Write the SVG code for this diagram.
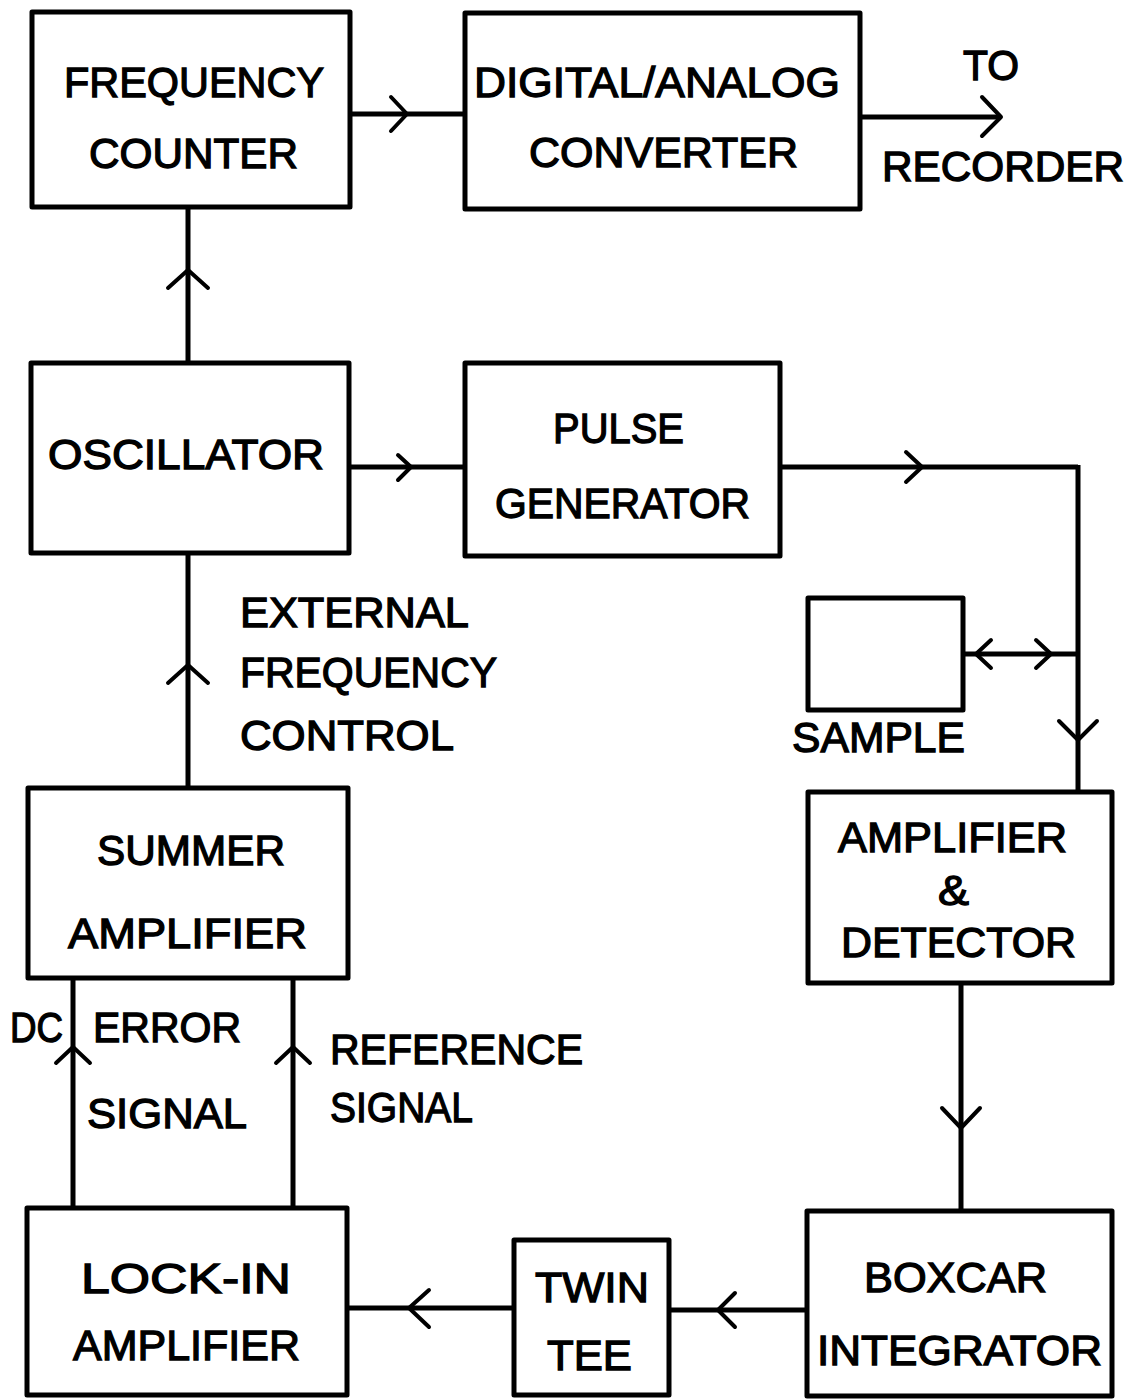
<svg xmlns="http://www.w3.org/2000/svg" width="1141" height="1400" viewBox="0 0 1141 1400">
<style>
.box{fill:none;stroke:#000;stroke-width:5;stroke-linejoin:round}
.ln{fill:none;stroke:#000;stroke-width:5}
.ch{fill:none;stroke:#000;stroke-width:4;stroke-linecap:round;stroke-linejoin:round}
text{font-family:"Liberation Sans",Arial,sans-serif;font-size:43px;fill:#000;stroke:#000;stroke-width:1.3}
</style>
<rect width="1141" height="1400" fill="#fff"/>
<g id="connectors">
<line class="ln" x1="350" y1="114" x2="465" y2="114"/>
<polyline class="ch" points="391,97 407,114 391,131"/>
<line class="ln" x1="860" y1="117" x2="1001" y2="117"/>
<polyline class="ch" points="982,97 1001,117 982,136"/>
<line class="ln" x1="188" y1="207" x2="188" y2="363"/>
<polyline class="ch" points="168,288 188,270 208,288"/>
<line class="ln" x1="349" y1="467" x2="465" y2="467"/>
<polyline class="ch" points="398,455 411,467 398,480"/>
<line class="ln" x1="780" y1="467" x2="1078" y2="467"/>
<polyline class="ch" points="906,452 922,467 906,482"/>
<line class="ln" x1="1078" y1="465" x2="1078" y2="792"/>
<polyline class="ch" points="1059,721 1078,740 1097,721"/>
<line class="ln" x1="963" y1="654" x2="1078" y2="654"/>
<polyline class="ch" points="991,640 976,654 991,668"/>
<polyline class="ch" points="1036,640 1051,654 1036,668"/>
<line class="ln" x1="188" y1="553" x2="188" y2="788"/>
<polyline class="ch" points="168,683 188,665 208,683"/>
<line class="ln" x1="961" y1="983" x2="961" y2="1211"/>
<polyline class="ch" points="942,1108 961,1128 980,1108"/>
<line class="ln" x1="807" y1="1310" x2="669" y2="1310"/>
<polyline class="ch" points="735,1293 718,1310 735,1327"/>
<line class="ln" x1="514" y1="1308" x2="347" y2="1308"/>
<polyline class="ch" points="429,1290 409,1308 429,1327"/>
<line class="ln" x1="73" y1="1208" x2="73" y2="978"/>
<polyline class="ch" points="56,1063 73,1047 90,1063"/>
<line class="ln" x1="293" y1="1208" x2="293" y2="978"/>
<polyline class="ch" points="276,1063 293,1047 310,1063"/>
</g>
<g id="freq-counter">
<rect class="box" x="32" y="12" width="318" height="195"/>
<text x="64" y="97" textLength="260" lengthAdjust="spacingAndGlyphs">FREQUENCY</text>
<text x="89" y="168" textLength="209" lengthAdjust="spacingAndGlyphs">COUNTER</text>
</g>
<g id="dac">
<rect class="box" x="465" y="13" width="395" height="196"/>
<text x="474" y="97" textLength="366" lengthAdjust="spacingAndGlyphs">DIGITAL/ANALOG</text>
<text x="529" y="167" textLength="269" lengthAdjust="spacingAndGlyphs">CONVERTER</text>
</g>
<g id="recorder-label">
<text x="963" y="80" textLength="56" lengthAdjust="spacingAndGlyphs">TO</text>
<text x="882" y="181" textLength="242" lengthAdjust="spacingAndGlyphs">RECORDER</text>
</g>
<g id="oscillator">
<rect class="box" x="31" y="363" width="318" height="190"/>
<text x="48" y="469" textLength="276" lengthAdjust="spacingAndGlyphs">OSCILLATOR</text>
</g>
<g id="pulse-gen">
<rect class="box" x="465" y="363" width="315" height="193"/>
<text x="553" y="443" textLength="131" lengthAdjust="spacingAndGlyphs">PULSE</text>
<text x="495" y="518" textLength="255" lengthAdjust="spacingAndGlyphs">GENERATOR</text>
</g>
<g id="ext-label">
<text x="240" y="627" textLength="229" lengthAdjust="spacingAndGlyphs">EXTERNAL</text>
<text x="240" y="687" textLength="257" lengthAdjust="spacingAndGlyphs">FREQUENCY</text>
<text x="240" y="750" textLength="214" lengthAdjust="spacingAndGlyphs">CONTROL</text>
</g>
<g id="sample">
<rect class="box" x="808" y="598" width="155" height="112"/>
<text x="792" y="752" textLength="173" lengthAdjust="spacingAndGlyphs">SAMPLE</text>
</g>
<g id="amp-det">
<rect class="box" x="808" y="792" width="304" height="191"/>
<text x="838" y="852" textLength="229" lengthAdjust="spacingAndGlyphs">AMPLIFIER</text>
<text x="938" y="905" textLength="31" lengthAdjust="spacingAndGlyphs">&amp;</text>
<text x="841" y="957" textLength="235" lengthAdjust="spacingAndGlyphs">DETECTOR</text>
</g>
<g id="summer">
<rect class="box" x="28" y="788" width="320" height="190"/>
<text x="97" y="865" textLength="188" lengthAdjust="spacingAndGlyphs">SUMMER</text>
<text x="68" y="948" textLength="239" lengthAdjust="spacingAndGlyphs">AMPLIFIER</text>
</g>
<g id="signal-labels">
<text x="10" y="1042" textLength="53" lengthAdjust="spacingAndGlyphs">DC</text>
<text x="93" y="1042" textLength="148" lengthAdjust="spacingAndGlyphs">ERROR</text>
<text x="87" y="1128" textLength="160" lengthAdjust="spacingAndGlyphs">SIGNAL</text>
<text x="330" y="1064" textLength="253" lengthAdjust="spacingAndGlyphs">REFERENCE</text>
<text x="330" y="1122" textLength="143" lengthAdjust="spacingAndGlyphs">SIGNAL</text>
</g>
<g id="lock-in">
<rect class="box" x="27" y="1208" width="320" height="187"/>
<text x="81" y="1293" textLength="210" lengthAdjust="spacingAndGlyphs">LOCK-IN</text>
<text x="73" y="1360" textLength="227" lengthAdjust="spacingAndGlyphs">AMPLIFIER</text>
</g>
<g id="twin-tee">
<rect class="box" x="514" y="1240" width="155" height="155"/>
<text x="535" y="1302" textLength="114" lengthAdjust="spacingAndGlyphs">TWIN</text>
<text x="547" y="1370" textLength="85" lengthAdjust="spacingAndGlyphs">TEE</text>
</g>
<g id="boxcar">
<rect class="box" x="807" y="1211" width="305" height="185"/>
<text x="864" y="1292" textLength="183" lengthAdjust="spacingAndGlyphs">BOXCAR</text>
<text x="817" y="1365" textLength="285" lengthAdjust="spacingAndGlyphs">INTEGRATOR</text>
</g>
</svg>
